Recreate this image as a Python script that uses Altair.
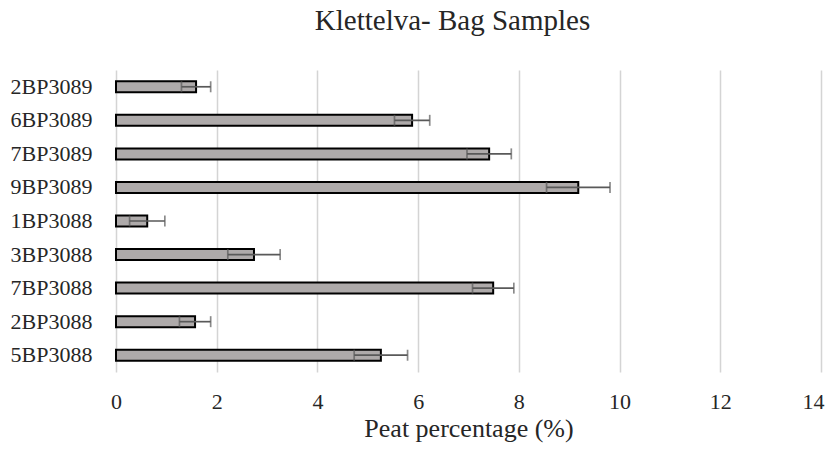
import altair as alt
import pandas as pd

samples = ["2BP3089", "6BP3089", "7BP3089", "9BP3089", "1BP3088",
           "3BP3088", "7BP3088", "2BP3088", "5BP3088"]
peat = [1.59, 5.88, 7.41, 9.18, 0.62, 2.74, 7.49, 1.57, 5.26]
err = [0.29, 0.35, 0.44, 0.63, 0.35, 0.52, 0.41, 0.31, 0.53]
x_ticks = [0, 2, 4, 6, 8, 10, 12, 14]

df = pd.DataFrame({"sample": samples, "peat": peat, "err": err})
df["lo"] = df["peat"] - df["err"]
df["hi"] = df["peat"] + df["err"]

FONT = "Liberation Serif"
TXT = "#262626"

y_enc = alt.Y("sample:N", sort=samples, title=None,
              scale=alt.Scale(paddingInner=0.3, paddingOuter=0.15),
              axis=alt.Axis(labelFont=FONT, labelFontSize=22, labelColor=TXT,
                            labelPadding=24, ticks=False, domain=False, grid=False))
x_enc = alt.X("peat:Q", title="Peat percentage  (%)",
              scale=alt.Scale(domain=[0, 14], nice=False),
              axis=alt.Axis(values=x_ticks, labelFont=FONT,
                            labelFontSize=22, labelColor=TXT, labelPadding=19,
                            labelFlush=False, labelOverlap=False,
                            labelAlign={"condition": {"test": "datum.value == 14", "value": "right"}, "value": "center"},
                            labelOffset={"condition": {"test": "datum.value == 14", "value": 3}, "value": 0},
                            ticks=False, domain=False, grid=True, gridColor="#d4d4d4",
                            gridWidth=1.5, titleFont=FONT, titleFontSize=26,
                            titleFontWeight="normal", titleColor=TXT, titlePadding=3))

bars = alt.Chart(df).mark_bar(size=11, fill="#AEAAAA", stroke="black",
                              strokeWidth=2).encode(x=x_enc, y=y_enc)
rules = alt.Chart(df).mark_rule(color="#595959", strokeWidth=1.7).encode(
    x=alt.X("lo:Q"), x2="hi:Q", y=alt.Y("sample:N", sort=samples))
cap_lo = alt.Chart(df).mark_tick(color="#595959", thickness=1.7, size=11,
                                 orient="vertical").encode(
    x=alt.X("lo:Q"), y=alt.Y("sample:N", sort=samples))
cap_hi = alt.Chart(df).mark_tick(color="#595959", thickness=1.7, size=11,
                                 orient="vertical").encode(
    x=alt.X("hi:Q"), y=alt.Y("sample:N", sort=samples))

chart = alt.layer(bars, rules, cap_lo, cap_hi).properties(
    width=705, height=302,
    title=alt.TitleParams("Klettelva- Bag Samples", font=FONT, fontSize=29,
                          fontWeight="normal", color=TXT, anchor="middle",
                          baseline="alphabetic", offset=11, dx=-16),
    autosize=alt.AutoSizeParams(type="none"),
    padding={"left": 108, "top": 62, "right": 4, "bottom": 72},
).configure_view(stroke=None)

chart.save("out.html", embed_options={"renderer": "svg", "actions": False})
